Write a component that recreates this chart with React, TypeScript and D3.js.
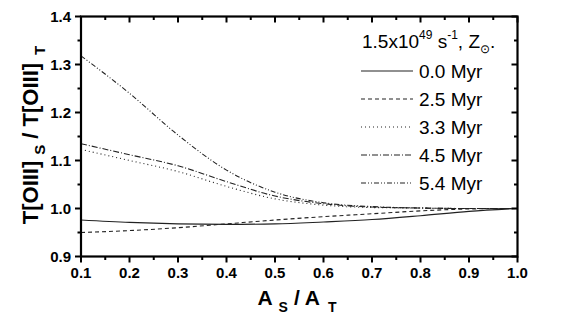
import React from 'react';
import * as d3 from 'd3';

// area ratio A_S / A_T
const ratios = [0.1, 0.2, 0.3, 0.4, 0.5, 0.6, 0.7, 0.8, 0.9, 1.0];

// T[OIII]_S / T[OIII]_T for each age
const myr00 = [0.976, 0.971, 0.968, 0.967, 0.968, 0.972, 0.977, 0.985, 0.994, 1.0];
const myr25 = [0.95, 0.954, 0.96, 0.968, 0.976, 0.983, 0.989, 0.995, 0.999, 1.0];
const myr33 = [1.123, 1.1, 1.077, 1.046, 1.02, 1.007, 1.002, 1.001, 1.0, 1.0];
const myr45 = [1.135, 1.112, 1.089, 1.056, 1.026, 1.01, 1.003, 1.001, 1.0, 1.0];
const myr54 = [1.318, 1.24, 1.153, 1.08, 1.034, 1.012, 1.004, 1.001, 1.0, 1.0];

const seriesLabels = ['0.0 Myr', '2.5 Myr', '3.3 Myr', '4.5 Myr', '5.4 Myr'];
const seriesDash = ['', '4,3', '1,3', '6,2,1,2', '5,2,1,2,1,2'];

const xMajor = [0.1, 0.2, 0.3, 0.4, 0.5, 0.6, 0.7, 0.8, 0.9, 1.0];
const yMajor = [0.9, 1.0, 1.1, 1.2, 1.3, 1.4];

const W = 572;
const H = 322;

export default function App() {
  const x = d3.scaleLinear().domain([0.1, 1.0]).range([81, 517.5]);
  const y = d3.scaleLinear().domain([0.9, 1.4]).range([256.5, 16.5]);

  const all = [myr00, myr25, myr33, myr45, myr54];
  const line = d3
    .line<number>()
    .x((_, i) => x(ratios[i]))
    .y((d) => y(d))
    .curve(d3.curveMonotoneX);

  const xMinor = d3.range(0.15, 1.0, 0.1);
  const yMinor = d3.range(0.95, 1.4, 0.1);

  const x0 = x(0.1), x1 = x(1.0), y0 = y(0.9), y1 = y(1.4);
  const font = 'Liberation Sans, Arial, sans-serif';

  return (
    <svg width={W} height={H} style={{ position: 'absolute', left: 0, top: 0, background: '#fff' }} fontFamily={font}>
      <g clipPath="url(#plot)">
        <clipPath id="plot">
          <rect x={x0} y={y1} width={x1 - x0} height={y0 - y1} />
        </clipPath>
        {all.map((s, i) => (
          <path key={i} d={line(s) || ''} fill="none" stroke="#222" strokeWidth={1.1} strokeDasharray={seriesDash[i]} />
        ))}
      </g>

      {/* frame */}
      <rect x={x0} y={y1} width={x1 - x0} height={y0 - y1} fill="none" stroke="#000" strokeWidth={2.2} />

      {/* bottom + top ticks */}
      {xMajor.map((t) => (
        <g key={'xm' + t}>
          <line x1={x(t)} x2={x(t)} y1={y0} y2={y0 + 6} stroke="#000" strokeWidth={2} />
          <line x1={x(t)} x2={x(t)} y1={y1} y2={y1 + 6} stroke="#000" strokeWidth={2} />
          <text x={x(t)} y={278} textAnchor="middle" fontSize={15} fontWeight="bold">
            {d3.format('.1f')(t)}
          </text>
        </g>
      ))}
      {xMinor.map((t) => (
        <g key={'xn' + t}>
          <line x1={x(t)} x2={x(t)} y1={y0} y2={y0 + 3.5} stroke="#000" strokeWidth={2} />
          <line x1={x(t)} x2={x(t)} y1={y1} y2={y1 + 3.5} stroke="#000" strokeWidth={2} />
        </g>
      ))}

      {/* left + right ticks */}
      {yMajor.map((t) => (
        <g key={'ym' + t}>
          <line x1={x0 - 6} x2={x0} y1={y(t)} y2={y(t)} stroke="#000" strokeWidth={2} />
          <line x1={x1 - 6} x2={x1} y1={y(t)} y2={y(t)} stroke="#000" strokeWidth={2} />
          <text x={71} y={y(t) + 5} textAnchor="end" fontSize={15} fontWeight="bold">
            {d3.format('.1f')(t)}
          </text>
        </g>
      ))}
      {yMinor.map((t) => (
        <g key={'yn' + t}>
          <line x1={x0 - 3.5} x2={x0} y1={y(t)} y2={y(t)} stroke="#000" strokeWidth={2} />
          <line x1={x1 - 3.5} x2={x1} y1={y(t)} y2={y(t)} stroke="#000" strokeWidth={2} />
        </g>
      ))}

      {/* axis titles */}
      <text x={297} y={305} textAnchor="middle" fontSize={21} fontWeight="bold">
        A<tspan fontSize={14} dy={7} dx={6}>S</tspan>
        <tspan dy={-7} dx={6}>/ A</tspan>
        <tspan fontSize={14} dy={7} dx={8}>T</tspan>
      </text>
      <text transform="translate(38,135) rotate(-90)" textAnchor="middle" fontSize={22} fontWeight="bold">
        T[OIII]<tspan fontSize={15} dy={7} dx={6}>S</tspan>
        <tspan dy={-7} dx={6}>/ T[OIII]</tspan>
        <tspan fontSize={15} dy={7} dx={8}>T</tspan>
      </text>

      {/* legend */}
      <text x={362} y={48} fontSize={19}>
        1.5x10<tspan fontSize={12} dy={-9}>49</tspan>
        <tspan dy={9}> s</tspan>
        <tspan fontSize={12} dy={-9}>-1</tspan>
        <tspan dy={9}>, Z</tspan>
        <tspan fontSize={12} dy={5}>{'\u2299'}</tspan>
        <tspan dy={-5}>.</tspan>
      </text>
      {seriesLabels.map((lab, i) => {
        const ly = 71 + i * 28;
        return (
          <g key={lab}>
            <line x1={361} x2={413} y1={ly} y2={ly} stroke="#222" strokeWidth={1.1} strokeDasharray={seriesDash[i]} />
            <text x={419} y={ly + 7} fontSize={19}>
              {lab}
            </text>
          </g>
        );
      })}
    </svg>
  );
}
